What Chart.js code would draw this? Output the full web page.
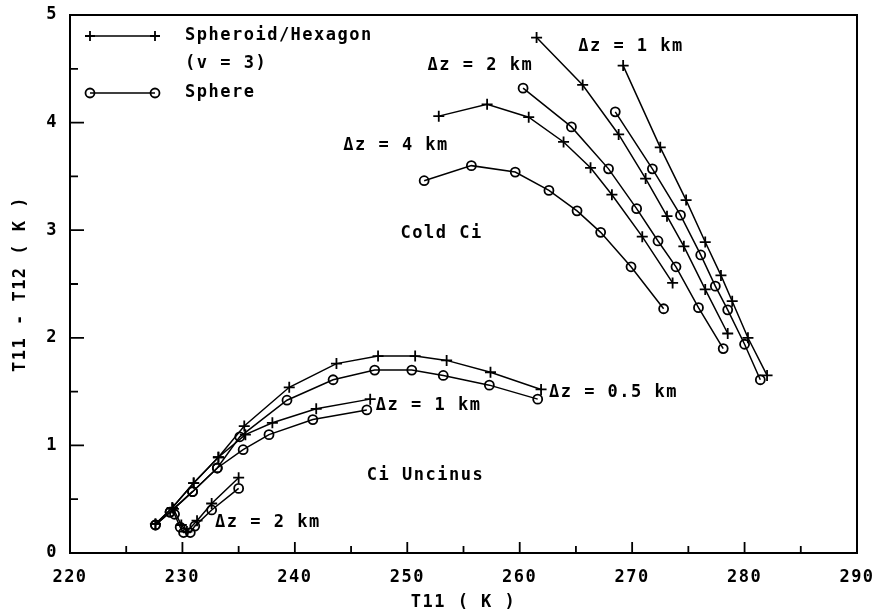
<!DOCTYPE html>
<html>
<head>
<meta charset="utf-8">
<script src="https://cdn.jsdelivr.net/npm/chart.js@4/dist/chart.umd.min.js"></script>
<style>
  html, body { margin: 0; padding: 0; background: #fff; }
  canvas { display: block; }
</style>
</head>
<body>
<canvas id="chart" width="874" height="613"></canvas>
<script>
// T11 (K) and T11 - T12 (K), one pair of arrays per curve

// Cold Ci
const coldDz1SpheroidT11 = [269.2, 272.5, 274.8, 276.5, 277.9, 278.9, 280.3, 282.0];
const coldDz1SpheroidBtd = [4.53, 3.77, 3.28, 2.89, 2.58, 2.34, 2.00, 1.65];
const coldDz1SphereT11 = [268.5, 271.8, 274.3, 276.1, 277.4, 278.5, 280.0, 281.4];
const coldDz1SphereBtd = [4.10, 3.57, 3.14, 2.77, 2.48, 2.26, 1.94, 1.61];

const coldDz2SpheroidT11 = [261.5, 265.6, 268.8, 271.2, 273.1, 274.6, 276.5, 278.5];
const coldDz2SpheroidBtd = [4.79, 4.35, 3.89, 3.48, 3.13, 2.85, 2.45, 2.04];
const coldDz2SphereT11 = [260.3, 264.6, 267.9, 270.4, 272.3, 273.9, 275.9, 278.1];
const coldDz2SphereBtd = [4.32, 3.96, 3.57, 3.20, 2.90, 2.66, 2.28, 1.90];

const coldDz4SpheroidT11 = [252.8, 257.1, 260.8, 263.9, 266.3, 268.2, 270.9, 273.6];
const coldDz4SpheroidBtd = [4.06, 4.17, 4.05, 3.82, 3.58, 3.33, 2.94, 2.51];
const coldDz4SphereT11 = [251.5, 255.7, 259.6, 262.6, 265.1, 267.2, 269.9, 272.8];
const coldDz4SphereBtd = [3.46, 3.60, 3.54, 3.37, 3.18, 2.98, 2.66, 2.27];

// Ci Uncinus
const uncDz05SpheroidT11 = [227.6, 229.1, 231.0, 233.2, 235.5, 239.5, 243.7, 247.4, 250.7, 253.5, 257.4, 261.9];
const uncDz05SpheroidBtd = [0.27, 0.42, 0.65, 0.89, 1.18, 1.54, 1.76, 1.83, 1.83, 1.79, 1.68, 1.52];
const uncDz05SphereT11 = [227.6, 228.9, 230.9, 233.1, 235.1, 239.3, 243.4, 247.1, 250.4, 253.2, 257.3, 261.6];
const uncDz05SphereBtd = [0.26, 0.38, 0.57, 0.79, 1.08, 1.42, 1.61, 1.70, 1.70, 1.65, 1.56, 1.43];

const uncDz1SpheroidT11 = [227.6, 229.1, 231.0, 233.2, 235.6, 238.0, 241.9, 246.7];
const uncDz1SpheroidBtd = [0.27, 0.42, 0.65, 0.89, 1.10, 1.21, 1.34, 1.43];
const uncDz1SphereT11 = [227.6, 228.9, 230.9, 233.1, 235.4, 237.7, 241.6, 246.4];
const uncDz1SphereBtd = [0.26, 0.38, 0.57, 0.79, 0.96, 1.10, 1.24, 1.33];

const uncDz2SpheroidT11 = [229.2, 229.9, 230.4, 231.3, 232.6, 235.0];
const uncDz2SpheroidBtd = [0.41, 0.26, 0.20, 0.30, 0.46, 0.70];
const uncDz2SphereT11 = [229.3, 229.8, 230.1, 230.7, 231.1, 232.6, 235.0];
const uncDz2SphereBtd = [0.36, 0.24, 0.19, 0.19, 0.25, 0.40, 0.60];

// axis ticks
const xTicks = [220, 230, 240, 250, 260, 270, 280, 290];
const yTicks = [0, 1, 2, 3, 4, 5];

// text placed on the plot, anchored at (T11, T11-T12)
const noteTexts = ['Δz = 1 km', 'Δz = 2 km', 'Δz = 4 km', 'Cold Ci',
                   'Δz = 0.5 km', 'Δz = 1 km', 'Ci Uncinus', 'Δz = 2 km'];
const noteT11 = [265.2, 251.8, 244.3, 249.4, 262.6, 247.2, 246.4, 232.9];
const noteBtd = [4.71, 4.53, 3.79, 2.97, 1.49, 1.37, 0.72, 0.28];

const legendTexts = ['Spheroid/Hexagon', '(v = 3)', 'Sphere'];

const FONT = 'DejaVu Sans Mono';

function pairs(xs, ys) {
  return xs.map((x, i) => ({ x: x, y: ys[i] }));
}

function curve(xs, ys, isSphere) {
  return {
    data: pairs(xs, ys),
    showLine: true,
    borderColor: '#000',
    borderWidth: 1.5,
    pointStyle: isSphere ? 'circle' : 'cross',
    pointRadius: isSphere ? 4.5 : 5.5,
    pointBorderWidth: 1.8,
    pointBorderColor: '#000',
    pointBackgroundColor: 'rgba(0,0,0,0)',
    tension: 0,
  };
}

// frame, inward ticks, notes and legend
const decorations = {
  id: 'decorations',
  beforeDraw(chart) {
    chart.ctx.letterSpacing = '1.5px';
  },
  afterDraw(chart) {
    const ctx = chart.ctx;
    const a = chart.chartArea;
    const xs = chart.scales.x, ys = chart.scales.y;
    ctx.save();
    ctx.letterSpacing = '1.5px';
    ctx.strokeStyle = '#000';
    ctx.fillStyle = '#000';
    ctx.lineWidth = 2;
    ctx.strokeRect(a.left, a.top, a.right - a.left, a.bottom - a.top);

    ctx.lineWidth = 1.8;
    ctx.beginPath();
    for (let v = 220; v <= 290; v += 5) {
      const px = xs.getPixelForValue(v);
      const len = v % 10 === 0 ? 11 : 7;
      ctx.moveTo(px, a.bottom);
      ctx.lineTo(px, a.bottom - len);
    }
    for (let v = 0; v <= 5; v += 0.5) {
      const py = ys.getPixelForValue(v);
      const len = Number.isInteger(v) ? 14 : 8;
      ctx.moveTo(a.left, py);
      ctx.lineTo(a.left + len, py);
    }
    ctx.stroke();

    ctx.font = 'bold 17px "' + FONT + '"';
    ctx.textAlign = 'left';
    ctx.textBaseline = 'middle';
    noteTexts.forEach((t, i) => {
      ctx.fillText(t, xs.getPixelForValue(noteT11[i]), ys.getPixelForValue(noteBtd[i]));
    });

    // legend
    const lx0 = a.left + 20, lx1 = a.left + 85, tx = a.left + 115;
    const r1 = a.top + 21, r2 = a.top + 49, r3 = a.top + 78;
    ctx.lineWidth = 1.5;
    ctx.beginPath();
    ctx.moveTo(lx0, r1); ctx.lineTo(lx1, r1);
    ctx.moveTo(lx0, r3); ctx.lineTo(lx1, r3);
    ctx.stroke();
    ctx.lineWidth = 1.8;
    ctx.beginPath();
    [lx0, lx1].forEach(px => {
      ctx.moveTo(px - 5, r1); ctx.lineTo(px + 5, r1);
      ctx.moveTo(px, r1 - 5); ctx.lineTo(px, r1 + 5);
    });
    ctx.stroke();
    [lx0, lx1].forEach(px => {
      ctx.beginPath();
      ctx.arc(px, r3, 4.5, 0, Math.PI * 2);
      ctx.stroke();
    });
    ctx.fillText(legendTexts[0], tx, r1);
    ctx.fillText(legendTexts[1], tx, r2);
    ctx.fillText(legendTexts[2], tx, r3);
    ctx.restore();
  }
};

const tickFont = { family: FONT, size: 17, weight: 'bold' };

new Chart(document.getElementById('chart').getContext('2d'), {
  type: 'scatter',
  data: {
    datasets: [
      curve(coldDz1SpheroidT11, coldDz1SpheroidBtd, false),
      curve(coldDz1SphereT11, coldDz1SphereBtd, true),
      curve(coldDz2SpheroidT11, coldDz2SpheroidBtd, false),
      curve(coldDz2SphereT11, coldDz2SphereBtd, true),
      curve(coldDz4SpheroidT11, coldDz4SpheroidBtd, false),
      curve(coldDz4SphereT11, coldDz4SphereBtd, true),
      curve(uncDz05SpheroidT11, uncDz05SpheroidBtd, false),
      curve(uncDz05SphereT11, uncDz05SphereBtd, true),
      curve(uncDz1SpheroidT11, uncDz1SpheroidBtd, false),
      curve(uncDz1SphereT11, uncDz1SphereBtd, true),
      curve(uncDz2SpheroidT11, uncDz2SpheroidBtd, false),
      curve(uncDz2SphereT11, uncDz2SphereBtd, true),
    ],
  },
  options: {
    responsive: false,
    animation: false,
    devicePixelRatio: 1,
    layout: { padding: { top: 15, right: 17, left: 0, bottom: 0 } },
    plugins: { legend: { display: false }, tooltip: { enabled: false } },
    scales: {
      x: {
        type: 'linear',
        min: 220,
        max: 290,
        afterBuildTicks: s => { s.ticks = xTicks.map(v => ({ value: v })); },
        afterFit: s => { s.height = 60; s.paddingLeft = 0; s.paddingRight = 0; },
        grid: { display: false, drawTicks: false },
        border: { display: false },
        ticks: { color: '#000', font: tickFont, padding: 14, maxRotation: 0 },
        title: { display: true, text: 'T11 ( K )', color: '#000', font: tickFont, padding: { top: 0, bottom: 0 } },
      },
      y: {
        type: 'linear',
        min: 0,
        max: 5,
        afterBuildTicks: s => { s.ticks = yTicks.map(v => ({ value: v })); },
        afterFit: s => { s.width = 70; s.paddingTop = 0; s.paddingBottom = 0; },
        grid: { display: false, drawTicks: false },
        border: { display: false },
        ticks: { color: '#000', font: tickFont, padding: 12 },
        title: { display: true, text: 'T11 - T12 ( K )', color: '#000', font: tickFont, padding: { top: 10, bottom: 0 } },
      },
    },
  },
  plugins: [decorations],
});
</script>
</body>
</html>
